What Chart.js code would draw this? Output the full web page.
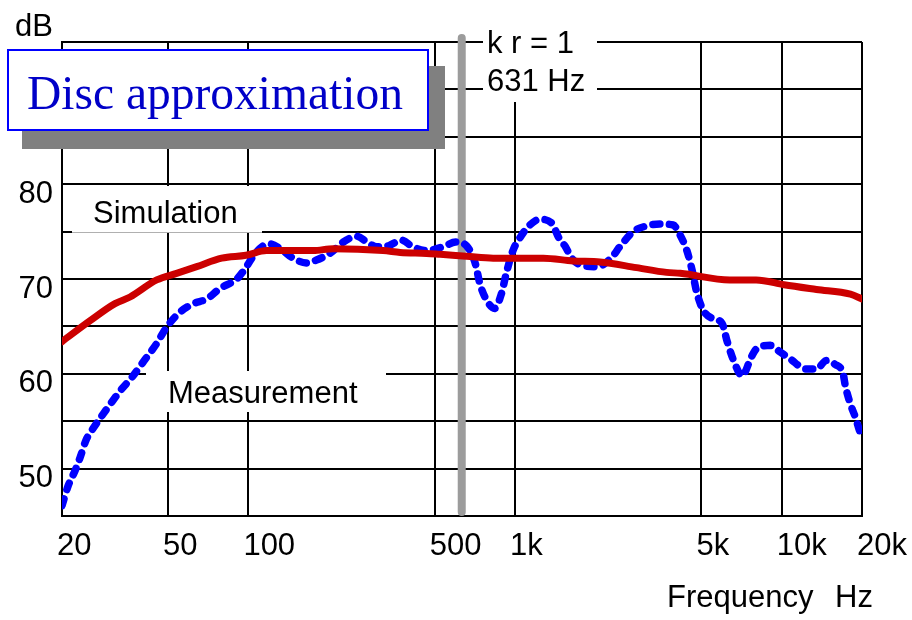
<!DOCTYPE html>
<html>
<head>
<meta charset="utf-8">
<script src="https://cdn.jsdelivr.net/npm/chart.js@4.4.0/dist/chart.umd.min.js"></script>
<style>
  html, body { margin: 0; padding: 0; background: #fff; }
  #wrap { width: 912px; height: 620px; position: relative; }
</style>
</head>
<body>
<div id="wrap"><canvas id="resp"></canvas></div>
<script>
// frequency axis
const xTicks      = [20, 50, 100, 500, 1000, 5000, 10000, 20000];
const xTickLabels = ['20', '50', '100', '500', '1k', '5k', '10k', '20k'];
const yLabels     = [50, 60, 70, 80];
const kr1Freq     = 631;

// simulated response (disc approximation)
const simFreq = [20, 25.5, 31.6, 36, 45.3, 53.8, 64, 79.4, 98, 117, 175, 208, 320, 371, 466, 524,
  658, 828, 1278, 1652, 2082, 2855, 3700, 4166, 6387, 8020, 10200, 13500, 18100, 20000];
const simDb = [63.4, 65.6, 67.4, 68.1, 69.9, 70.6, 71.3, 72.2, 72.5, 73.0, 73.0, 73.2, 73.0, 72.8, 72.7, 72.6,
  72.4, 72.2, 72.2, 71.9, 71.8, 71.2, 70.7, 70.6, 69.9, 69.9, 69.4, 68.9, 68.4, 67.9];

// measured response
const measFreq = [20, 21.1, 22.4, 23.4, 24.6, 26.1, 28.6, 30.7, 33.5, 36.5, 40.2, 45.3, 49.3, 55.4, 62.2,
  69.9, 78.2, 90.4, 97.3, 104.8, 113.6, 120, 131.8, 147, 165, 180, 202, 227, 255, 278, 303, 335, 375,
  413, 466, 536, 600, 658, 710, 738, 781, 838, 888, 927, 982, 1057, 1136, 1240, 1372, 1456, 1545,
  1630, 1806, 2036, 2290, 2485, 2778, 3116, 3491, 3914, 4166, 4420, 4614, 4810, 5080, 5440, 5980,
  6230, 6600, 7100, 7700, 8020, 9070, 9860, 10720, 12360, 13500, 14700, 15850, 17000, 17300, 18100,
  18900, 19700, 20000];
const measDb = [46.1, 48.2, 49.8, 51.2, 53.0, 54.2, 55.8, 57.0, 58.4, 59.6, 61.2, 63.2, 64.9, 66.5, 67.4,
  67.9, 69.0, 70.0, 71.1, 72.5, 73.5, 73.7, 73.2, 72.2, 71.7, 72.0, 72.7, 73.9, 74.5, 73.9, 73.4, 73.5, 74.1,
  73.4, 73.0, 73.4, 73.9, 73.5, 71.6, 69.5, 67.8, 66.9, 68.4, 70.6, 73.0, 74.6, 75.7, 76.3, 75.9, 74.4, 73.4,
  72.2, 71.4, 71.3, 72.2, 73.5, 75.0, 75.6, 75.8, 75.7, 74.6, 72.9, 70.9, 68.5, 66.7, 65.9, 65.3,
  63.5, 61.4, 59.8, 61.8, 62.6, 63.0, 62.3, 61.6, 60.5, 60.5, 61.4, 61.0, 60.0, 58.8, 56.8,
  55.4, 53.8, 53.5];

const zip = (xs, ys) => xs.map((v, i) => ({ x: v, y: ys[i] }));

const SANS = '"Liberation Sans", Arial, sans-serif';

// title box, label patches, kr=1 marker and axis captions
const overlay = {
  id: 'overlay',
  beforeDatasetsDraw(chart) {
    const { ctx, chartArea: a, scales: { x } } = chart;
    ctx.save();

    // white patches behind the inline labels
    ctx.fillStyle = '#fff';
    ctx.fillRect(72, 186, 190, 46);
    ctx.fillRect(146, 371, 240, 41);
    ctx.fillRect(483, 28, 114, 74);
    ctx.strokeStyle = '#b0b0b0';
    ctx.lineWidth = 1;
    ctx.beginPath(); ctx.moveTo(72, 232.5); ctx.lineTo(262, 232.5); ctx.stroke();

    // kr = 1 marker
    const kx = x.getPixelForValue(kr1Freq);
    ctx.strokeStyle = '#9c9c9c';
    ctx.lineWidth = 8;
    ctx.lineCap = 'round';
    ctx.beginPath(); ctx.moveTo(kx, a.top - 4); ctx.lineTo(kx, a.bottom - 4); ctx.stroke();

    // title box with drop shadow
    ctx.fillStyle = '#808080';
    ctx.fillRect(22, 66, 423, 83);
    ctx.fillStyle = '#fff';
    ctx.fillRect(7, 50, 421, 80);
    ctx.strokeStyle = '#0000ff';
    ctx.lineWidth = 2;
    ctx.strokeRect(8, 50, 420, 80);
    ctx.fillStyle = '#0000c8';
    ctx.font = '47.5px "Liberation Serif", serif';
    ctx.textBaseline = 'alphabetic';
    ctx.fillText('Disc approximation', 27, 109);

    // captions
    ctx.fillStyle = '#000';
    ctx.font = '31px ' + SANS;
    ctx.fillText('dB', 15, 36);
    ctx.fillText('Frequency', 667, 607);
    ctx.fillText('Hz', 835, 607);
    ctx.fillText('k r = 1', 487, 53);
    ctx.fillText('631 Hz', 487, 91);
    ctx.fillText('Simulation', 93, 223);
    ctx.fillText('Measurement', 168, 403);
    ctx.restore();
  }
};

new Chart(document.getElementById('resp'), {
  type: 'line',
  data: {
    datasets: [
      {
        label: 'Simulation',
        data: zip(simFreq, simDb),
        borderColor: '#cc0000',
        borderWidth: 7,
        borderCapStyle: 'round',
        borderJoinStyle: 'round',
        pointRadius: 0,
        cubicInterpolationMode: 'monotone',
      },
      {
        label: 'Measurement',
        data: zip(measFreq, measDb),
        borderColor: '#0000ff',
        borderWidth: 7.5,
        borderDash: [7, 9.5],
        borderCapStyle: 'round',
        borderJoinStyle: 'round',
        pointRadius: 0,
        cubicInterpolationMode: 'monotone',
      }
    ]
  },
  options: {
    responsive: true,
    maintainAspectRatio: false,
    animation: false,
    layout: { padding: { left: 0, top: 42, right: 50, bottom: 0 } },
    plugins: { legend: { display: false }, tooltip: { enabled: false } },
    scales: {
      x: {
        type: 'logarithmic',
        min: 20,
        max: 20000,
        afterBuildTicks: s => { s.ticks = xTicks.map(v => ({ value: v })); },
        afterFit: s => { s.height = 104; s.paddingLeft = 0; s.paddingRight = 0; },
        grid: { color: '#000', lineWidth: 2, drawTicks: false },
        border: { color: '#000', width: 2 },
        ticks: {
          color: '#000',
          font: { family: SANS, size: 31 },
          padding: 12,
          align: 'start',
          labelOffset: -5,
          maxRotation: 0,
          autoSkip: false,
          callback: (v, i) => xTickLabels[i]
        }
      },
      y: {
        min: 45,
        max: 95,
        afterFit: s => { s.width = 62; s.paddingTop = 0; s.paddingBottom = 0; },
        grid: { color: '#000', lineWidth: 2, drawTicks: false },
        border: { color: '#000', width: 2 },
        ticks: {
          stepSize: 5,
          color: '#000',
          font: { family: SANS, size: 31 },
          padding: 9,
          labelOffset: 10,
          callback: v => yLabels.includes(v) ? String(v) : ''
        }
      }
    }
  },
  plugins: [overlay]
});
</script>
</body>
</html>
